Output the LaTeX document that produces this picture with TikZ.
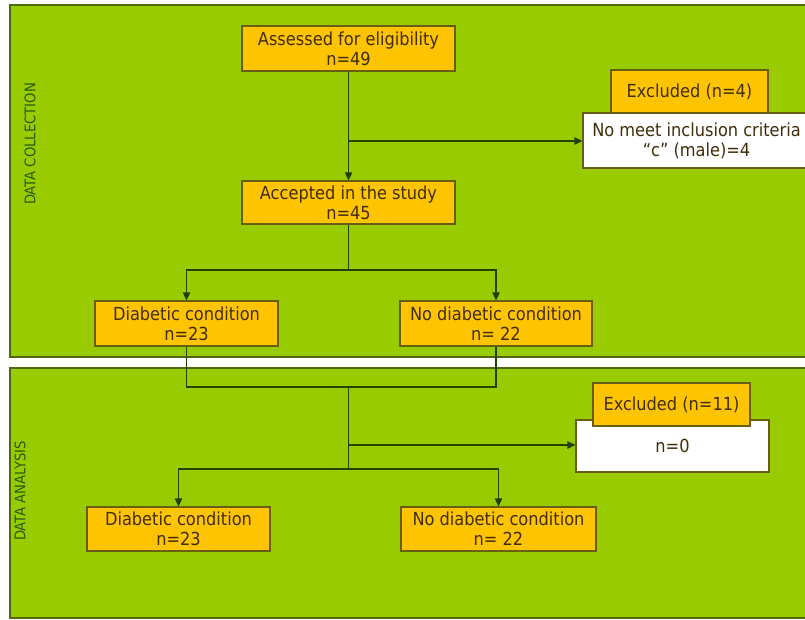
\documentclass[tikz,border=0pt]{standalone}
\usepackage{fontspec}
\setmainfont{DejaVu Sans Condensed}
\usepackage{xcolor}
\usetikzlibrary{arrows.meta}

\definecolor{panelfill}{RGB}{153,204,0}
\definecolor{panelline}{RGB}{80,105,15}
\definecolor{boxfill}{RGB}{255,196,0}
\definecolor{boxline}{RGB}{105,95,20}
\definecolor{boxtext}{RGB}{65,45,10}
\definecolor{linecol}{RGB}{35,65,0}
\definecolor{labelcol}{RGB}{40,90,10}

\newcommand{\boxfont}{\fontsize{13.5}{15}\selectfont}
\newcommand{\panelfont}{\fontsize{11}{12}\selectfont}

\tikzset{
  panel/.style={draw=panelline, fill=panelfill, line width=1.2pt},
  panellabel/.style={rotate=90, text=labelcol, font=\panelfont, inner sep=0pt},
  flowbox/.style={draw=boxline, fill=boxfill, text=boxtext, align=center, inner sep=0pt, font=\boxfont, line width=0.8pt},
  critbox/.style={flowbox, fill=white},
  flowline/.style={draw=linecol, line width=1pt},
  flowarrow/.style={flowline, -{Triangle[length=6pt,width=5.5pt]}}
}

\begin{document}
\begin{tikzpicture}[x=0.75pt,y=0.75pt,yscale=-1,xscale=1]
    \useasboundingbox (0,0) rectangle (805,619);

    %Panels
    \path[panel] (10,5) rectangle (815,357);
    \path[panel] (10,368) rectangle (815,618);
    \node[panellabel] (collect) at (30,144) {DATA COLLECTION};
    \node[panellabel] (analyse) at (20,491) {DATA ANALYSIS};

    %Boxes: data collection
    \node[flowbox, minimum width=159.75pt, minimum height=33.75pt] (assess) at (348.5,48.5) {Assessed for eligibility\\n=49};
    \node[flowbox, minimum width=159.75pt, minimum height=32.25pt] (accept) at (348.5,202.5) {Accepted in the study\\n=45};
    \node[critbox, minimum width=170.25pt, minimum height=41.25pt] (crit1) at (696.5,140.5) {No meet inclusion criteria\\``c'' (male)=4};
    \node[flowbox, minimum width=117.75pt, minimum height=32.25pt] (excl1) at (689.5,91.5) {Excluded (n=4)};
    \node[flowbox, minimum width=137.25pt, minimum height=33.75pt] (diab1) at (186.5,323.5) {Diabetic condition\\n=23};
    \node[flowbox, minimum width=144pt, minimum height=33.75pt] (nodiab1) at (496,323.5) {No diabetic condition\\n= 22};

    %Boxes: data analysis
    \node[critbox, minimum width=144.75pt, minimum height=39pt] (crit2) at (672.5,446) {n=0};
    \node[flowbox, minimum width=117.75pt, minimum height=32.25pt] (excl2) at (671.5,404.5) {Excluded (n=11)};
    \node[flowbox, minimum width=137.25pt, minimum height=33pt] (diab2) at (178.5,529) {Diabetic condition\\n=23};
    \node[flowbox, minimum width=146.25pt, minimum height=33pt] (nodiab2) at (498.5,529) {No diabetic condition\\n= 22};

    %Junctions
    \coordinate (j1) at (348.5,141);
    \coordinate (s1) at (348.5,270);
    \coordinate (m1) at (348.5,387);
    \coordinate (j2) at (348.5,445);
    \coordinate (s2) at (348.5,469);

    %Connectors
    \draw[flowarrow] (assess) -- (accept);
    \draw[flowarrow] (j1) -- (j1 -| crit1.west);
    \draw[flowline] (accept) -- (s1);
    \draw[flowarrow] (s1) -| (diab1);
    \draw[flowarrow] (s1) -| (nodiab1);
    \draw[flowline] (diab1) |- (m1);
    \draw[flowline] (nodiab1) |- (m1);
    \draw[flowline] (m1) -- (s2);
    \draw[flowarrow] (j2) -- (j2 -| crit2.west);
    \draw[flowarrow] (s2) -| (diab2);
    \draw[flowarrow] (s2) -| (nodiab2);

\end{tikzpicture}
\end{document}
